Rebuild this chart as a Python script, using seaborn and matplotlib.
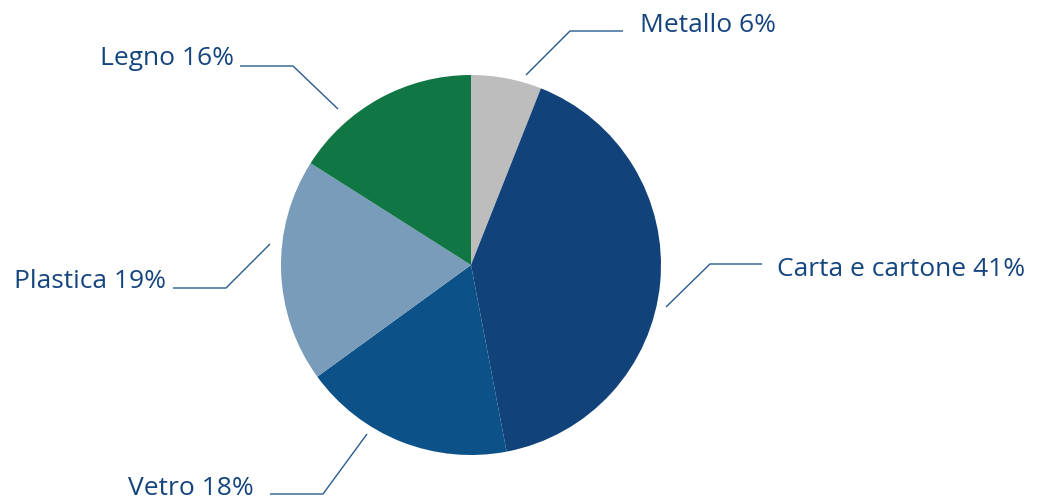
import matplotlib
matplotlib.use("Agg")
import matplotlib.pyplot as plt
import seaborn as sns

# data
categories = ["Metallo", "Carta e cartone", "Vetro", "Plastica", "Legno"]
values = [6, 41, 18, 19, 16]
colors = ["#bcbdbc", "#12427a", "#0c5288", "#789cb9", "#0f7644"]

sns.set_theme(style="white")
plt.rcParams['font.family'] = ['Open Sans', 'DejaVu Sans']

W, H = 1038, 499
fig = plt.figure(figsize=(W / 100, H / 100), dpi=100)

# pie in pixel coords (y up)
pax = fig.add_axes([0, 0, 1, 1])
cx, cy, r = 471, H - 265, 190
pax.pie(values, colors=colors, startangle=90, counterclock=False,
        center=(cx, cy), radius=r, frame=True,
        wedgeprops=dict(linewidth=0))
pax.set_xlim(0, W)
pax.set_ylim(0, H)
pax.set_aspect("auto")
pax.axis("off")

# overlay axes in pixel coords (y down) for labels
ax = fig.add_axes([0, 0, 1, 1])
ax.set_xlim(0, W)
ax.set_ylim(H, 0)
ax.axis("off")
ax.patch.set_alpha(0)

text_color = "#15457f"
line_color = "#2a5a90"

# layout: leader polylines (start, elbow, end) and text anchors in pixel coords
layout = {
    "Metallo": dict(pts=[(526, 75), (570, 31), (623, 31)], txt=(640, 32), ha="left"),
    "Carta e cartone": dict(pts=[(666, 307), (710, 264), (762, 264)], txt=(777, 276), ha="left"),
    "Vetro": dict(pts=[(367, 434), (323, 494), (270, 494)], txt=(254, 495), ha="right"),
    "Plastica": dict(pts=[(270, 244), (226, 288), (173, 288)], txt=(166, 288), ha="right"),
    "Legno": dict(pts=[(338, 109), (293, 66), (240, 66)], txt=(234, 65), ha="right"),
}

for cat, val in zip(categories, values):
    lo = layout[cat]
    xs = [p[0] for p in lo["pts"]]
    ys = [p[1] for p in lo["pts"]]
    ax.plot(xs, ys, color=line_color, lw=1.0, solid_capstyle="butt")
    ax.text(lo["txt"][0], lo["txt"][1], f"{cat} {val}%", ha=lo["ha"], va="baseline",
            fontsize=19, color=text_color)

fig.savefig("out.png", dpi=100)
